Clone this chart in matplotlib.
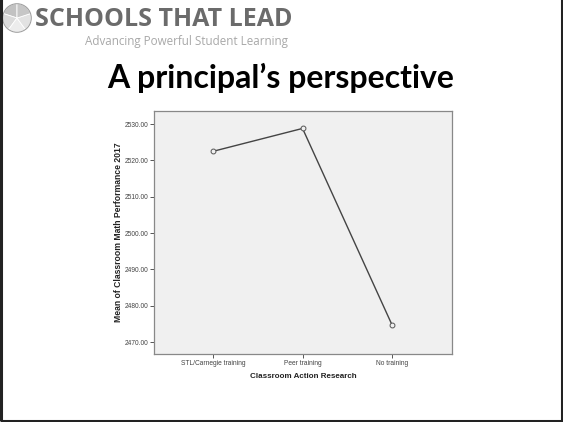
import matplotlib.pyplot as plt
from matplotlib.patches import Wedge, Rectangle
import numpy as np

categories = ['STL/Carnegie training', 'Peer training', 'No training']
means = [2522.5, 2528.8, 2474.7]
yticks = [2470, 2480, 2490, 2500, 2510, 2520, 2530]

fig = plt.figure(figsize=(5.63, 4.22), dpi=100)
fig.patch.set_facecolor('white')

# slide frame
fig.add_artist(Rectangle((0.002, 0.002), 0.996, 1.2, transform=fig.transFigure,
                         fill=False, edgecolor='#222222', linewidth=2.2))

W, H = 563, 422

# logo circle
shades = ['#c2c2c2', '#dadada', '#ececec', '#e2e2e2', '#c6c6c6']
logo = fig.add_axes([(17 - 15) / W, 1 - 33 / H, 30 / W, 30 / H])
logo.set_xlim(-1.05, 1.05)
logo.set_ylim(-1.05, 1.05)
logo.set_aspect('equal')
logo.axis('off')
for i, c in enumerate(shades):
    a0 = 90 + i * 72
    logo.add_patch(Wedge((0, 0), 1, a0, a0 + 72, facecolor=c, edgecolor='white', linewidth=0.6))
logo.add_patch(plt.Circle((0, 0), 1, fill=False, edgecolor='#9a9a9a', linewidth=0.7))

fig.text(35 / W, 1 - 19 / H, 'SCHOOLS THAT LEAD', fontsize=18, fontweight='bold',
         color='#6b6b6b', va='center', ha='left', family='Open Sans')
fig.text(85 / W, 1 - 42 / H, 'Advancing Powerful Student Learning', fontsize=8.4,
         color='#a8a8a8', va='center', ha='left', family='Open Sans')

fig.text(281 / W, 1 - 78 / H, 'A principal\u2019s perspective', fontsize=23, fontweight='bold',
         color='black', va='center', ha='center', family='Lato')

ax = fig.add_axes([154 / W, 68 / H, 298 / W, 243 / H])
ax.set_facecolor('#f0f0f0')
x = np.arange(len(categories))
ax.plot(x, means, color='#444444', linewidth=1.0, marker='o', markersize=3.5,
        markerfacecolor='#f0f0f0', markeredgecolor='#555555', markeredgewidth=0.7)
ax.set_xlim(-0.66, 2.67)
ax.set_ylim(2466.7, 2533.6)
ax.set_xticks(x)
ax.set_xticklabels(categories, family='Liberation Sans')
ax.set_yticks(yticks)
ax.set_yticklabels(['%.2f' % v for v in yticks], family='Liberation Sans')
ax.tick_params(axis='both', direction='out', length=3, width=0.7, color='#555555',
               labelsize=4.8, labelcolor='#444444', pad=1)
for s in ax.spines.values():
    s.set_color('#888888')
    s.set_linewidth(0.9)
ax.set_xlabel('Classroom Action Research', fontsize=5.8, fontweight='bold', color='#222222',
              labelpad=5, family='Liberation Sans')
ax.set_ylabel('Mean of Classroom Math Performance 2017', fontsize=6.2, fontweight='bold',
              color='#222222', labelpad=1, family='Liberation Sans')

fig.savefig('out.png', dpi=100)
